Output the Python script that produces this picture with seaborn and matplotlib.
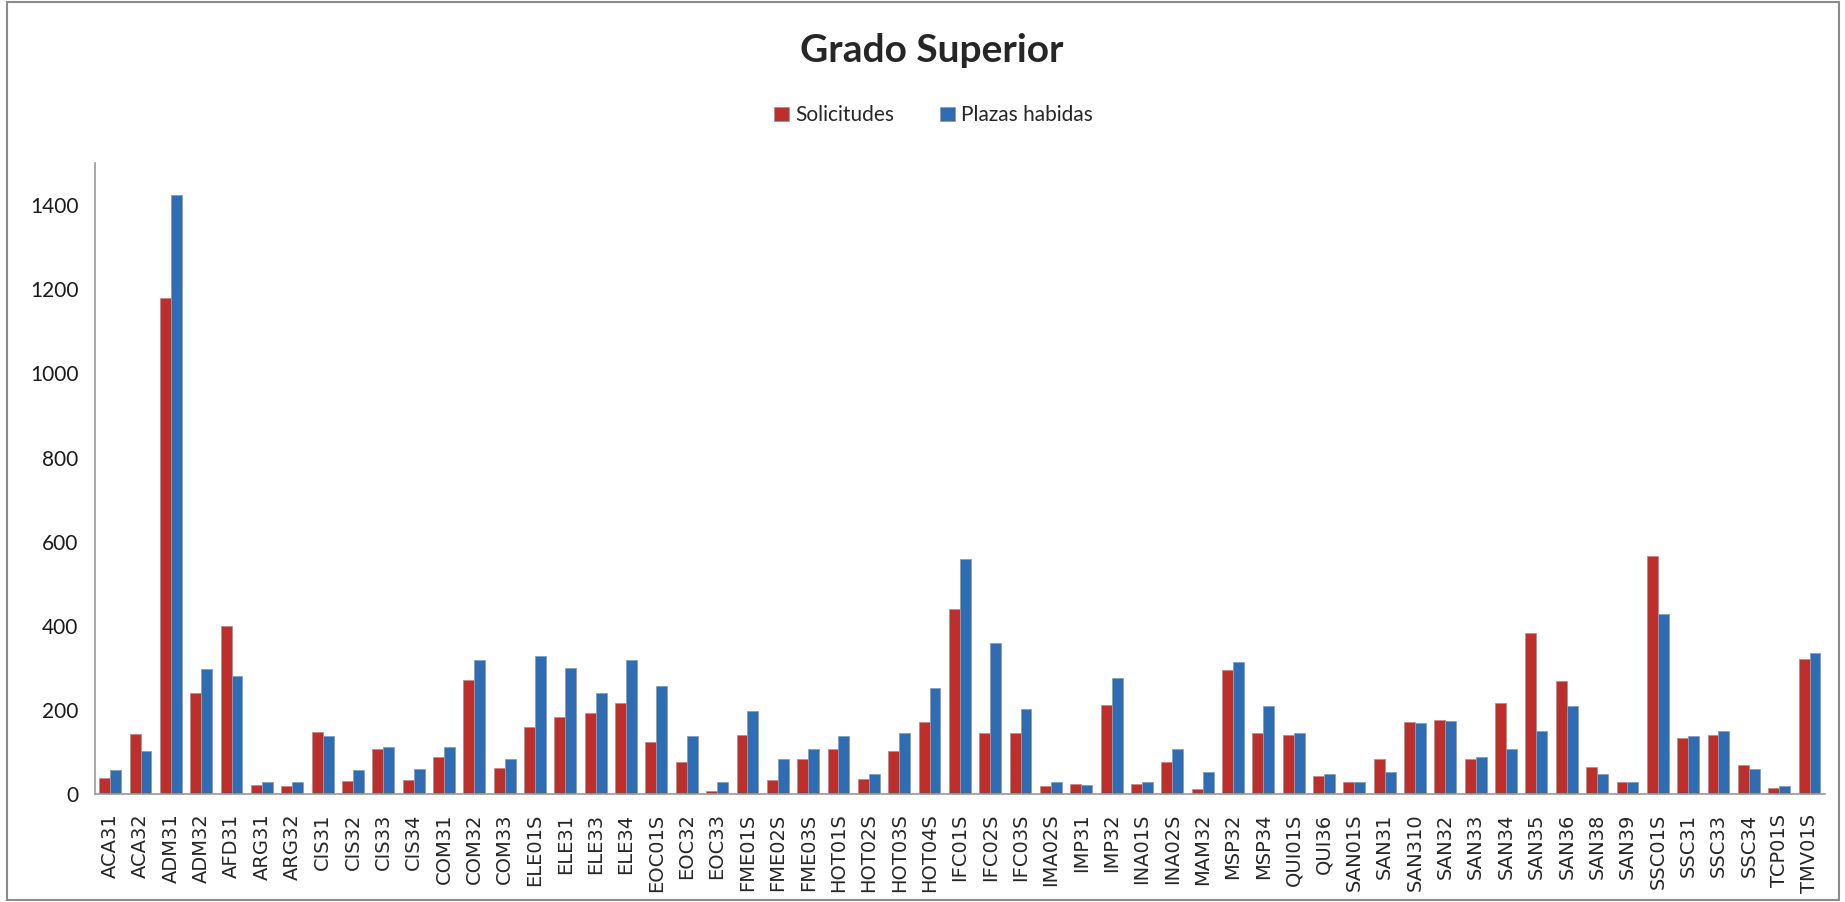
import pandas as pd
import matplotlib.pyplot as plt
import seaborn as sns
from matplotlib.patches import Rectangle

# Categories (ciclos de grado superior)
ciclos = ['ACA31', 'ACA32', 'ADM31', 'ADM32', 'AFD31', 'ARG31', 'ARG32', 'CIS31', 'CIS32', 'CIS33',
          'CIS34', 'COM31', 'COM32', 'COM33', 'ELE01S', 'ELE31', 'ELE33', 'ELE34', 'EOC01S', 'EOC32',
          'EOC33', 'FME01S', 'FME02S', 'FME03S', 'HOT01S', 'HOT02S', 'HOT03S', 'HOT04S', 'IFC01S', 'IFC02S',
          'IFC03S', 'IMA02S', 'IMP31', 'IMP32', 'INA01S', 'INA02S', 'MAM32', 'MSP32', 'MSP34', 'QUI01S',
          'QUI36', 'SAN01S', 'SAN31', 'SAN310', 'SAN32', 'SAN33', 'SAN34', 'SAN35', 'SAN36', 'SAN38',
          'SAN39', 'SSC01S', 'SSC31', 'SSC33', 'SSC34', 'TCP01S', 'TMV01S']

solicitudes = [38, 142, 1180, 240, 399, 22, 18, 148, 30, 108,
               33, 87, 271, 61, 160, 182, 193, 217, 124, 75,
               7, 140, 33, 83, 106, 36, 103, 171, 440, 146,
               146, 20, 25, 212, 25, 77, 11, 294, 144, 140,
               44, 28, 83, 171, 176, 83, 217, 384, 269, 64,
               28, 565, 133, 140, 69, 14, 321]

plazas = [58, 102, 1424, 298, 280, 28, 28, 138, 58, 113,
          59, 113, 319, 83, 329, 299, 240, 319, 258, 138,
          28, 198, 83, 106, 138, 48, 144, 252, 560, 359,
          203, 28, 22, 277, 28, 106, 52, 313, 209, 144,
          48, 28, 52, 168, 174, 89, 106, 149, 209, 48,
          28, 428, 138, 149, 59, 20, 335]

series = ['Solicitudes', 'Plazas habidas']
colores = ['#BE2F2C', '#2E6CB3']

df = pd.DataFrame({
    'ciclo': ciclos * 2,
    'valor': solicitudes + plazas,
    'serie': [series[0]] * len(ciclos) + [series[1]] * len(ciclos),
})

sns.set_style('white')
plt.rcParams['font.family'] = ['DejaVu Sans']

fig = plt.figure(figsize=(18.45, 9.02), dpi=100)
ax = fig.add_axes([0.0515, 0.1197, 0.9375, 0.6994])

sns.barplot(data=df, x='ciclo', y='valor', hue='serie', palette=colores,
            width=0.72, edgecolor='#9a9a9a', linewidth=0.6, ax=ax, saturation=1)

ax.set_xlim(-0.5, len(ciclos) - 0.5)
ax.set_ylim(0, 1500)
ax.set_yticks(range(0, 1401, 200))
ax.set_xlabel('')
ax.set_ylabel('')
ax.tick_params(axis='x', labelrotation=90, labelsize=14, length=0, pad=14)
ax.tick_params(axis='y', labelsize=15, length=5, width=1, color='#9a9a9a', pad=7)
for lab in ax.get_yticklabels():
    lab.set_family('Lato')
    lab.set_color('#1a1a1a')

for side in ['top', 'right']:
    ax.spines[side].set_visible(False)
for side in ['left', 'bottom']:
    ax.spines[side].set_color('#9a9a9a')
    ax.spines[side].set_linewidth(1.2)

# legend above the plot, like the original
handles, labels = ax.get_legend_handles_labels()
ax.legend_.remove()
fig.legend(handles, labels, loc='center', bbox_to_anchor=(0.506, 0.872), ncol=2,
           frameon=False, handlelength=0.7, handleheight=0.7, handletextpad=0.3,
           columnspacing=2.2, prop={'family': 'Lato', 'size': 15})

fig.text(0.505, 0.944, 'Grado Superior', ha='center', va='center',
         fontsize=28, fontweight='bold', family='Lato')

# frame around the chart
fig.patches.append(Rectangle((0.004, 0.002), 0.993, 0.996, transform=fig.transFigure,
                             fill=False, edgecolor='#8c8c8c', linewidth=1.5))

fig.savefig('out.png', dpi=100)
